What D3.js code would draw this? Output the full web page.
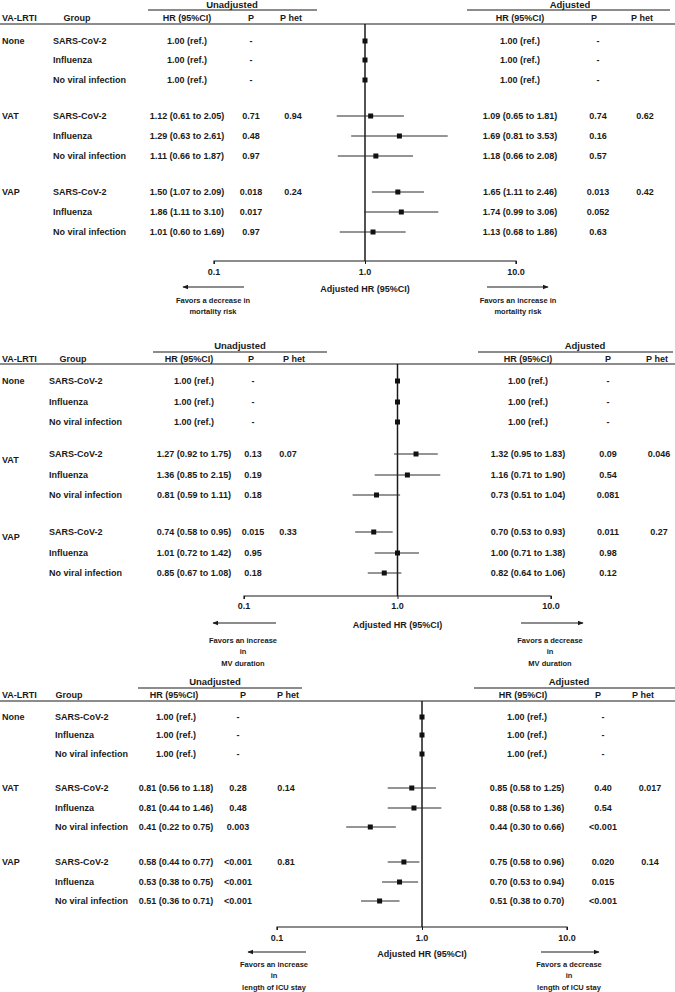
<!DOCTYPE html>
<html>
<head>
<meta charset="utf-8">
<script src="https://cdn.jsdelivr.net/npm/d3@7"></script>
<style>
  html, body { margin: 0; padding: 0; background: #fff; }
  svg text { font-family: "Liberation Sans Narrow", "Arial Narrow", "Liberation Sans", sans-serif; fill: #1a1a1a; }
</style>
</head>
<body>
<svg id="chart" width="675" height="992"></svg>
<script>
// ─── Data ───
const lrtiTypes = ["None", "VAT", "VAP"];
const groups = ["SARS-CoV-2", "Influenza", "No viral infection"];
const axisTicks = [0.1, 1, 10];
const tickLabels = ["0.1", "1.0", "10.0"];

// mortality
const mortUnHR = [1, 1, 1, 1.12, 1.29, 1.11, 1.50, 1.86, 1.01];
const mortUnLo = [null, null, null, 0.61, 0.63, 0.66, 1.07, 1.11, 0.60];
const mortUnHi = [null, null, null, 2.05, 2.61, 1.87, 2.09, 3.10, 1.69];
const mortUnP = ["-", "-", "-", "0.71", "0.48", "0.97", "0.018", "0.017", "0.97"];
const mortUnPhet = ["", "0.94", "0.24"];
const mortAdHR = [1, 1, 1, 1.09, 1.69, 1.18, 1.65, 1.74, 1.13];
const mortAdLo = [null, null, null, 0.65, 0.81, 0.66, 1.11, 0.99, 0.68];
const mortAdHi = [null, null, null, 1.81, 3.53, 2.08, 2.46, 3.06, 1.86];
const mortAdP = ["-", "-", "-", "0.74", "0.16", "0.57", "0.013", "0.052", "0.63"];
const mortAdPhet = ["", "0.62", "0.42"];

// MV duration
const mvUnHR = [1, 1, 1, 1.27, 1.36, 0.81, 0.74, 1.01, 0.85];
const mvUnLo = [null, null, null, 0.92, 0.85, 0.59, 0.58, 0.72, 0.67];
const mvUnHi = [null, null, null, 1.75, 2.15, 1.11, 0.95, 1.42, 1.08];
const mvUnP = ["-", "-", "-", "0.13", "0.19", "0.18", "0.015", "0.95", "0.18"];
const mvUnPhet = ["", "0.07", "0.33"];
const mvAdHR = [1, 1, 1, 1.32, 1.16, 0.73, 0.70, 1.00, 0.82];
const mvAdLo = [null, null, null, 0.95, 0.71, 0.51, 0.53, 0.71, 0.64];
const mvAdHi = [null, null, null, 1.83, 1.90, 1.04, 0.93, 1.38, 1.06];
const mvAdP = ["-", "-", "-", "0.09", "0.54", "0.081", "0.011", "0.98", "0.12"];
const mvAdPhet = ["", "0.046", "0.27"];

// ICU stay
const icuUnHR = [1, 1, 1, 0.81, 0.81, 0.41, 0.58, 0.53, 0.51];
const icuUnLo = [null, null, null, 0.56, 0.44, 0.22, 0.44, 0.38, 0.36];
const icuUnHi = [null, null, null, 1.18, 1.46, 0.75, 0.77, 0.75, 0.71];
const icuUnP = ["-", "-", "-", "0.28", "0.48", "0.003", "<0.001", "<0.001", "<0.001"];
const icuUnPhet = ["", "0.14", "0.81"];
const icuAdHR = [1, 1, 1, 0.85, 0.88, 0.44, 0.75, 0.70, 0.51];
const icuAdLo = [null, null, null, 0.58, 0.58, 0.30, 0.58, 0.53, 0.38];
const icuAdHi = [null, null, null, 1.25, 1.36, 0.66, 0.96, 0.94, 0.70];
const icuAdP = ["-", "-", "-", "0.40", "0.54", "<0.001", "0.020", "0.015", "<0.001"];
const icuAdPhet = ["", "0.017", "0.14"];

// ─── Layout per panel ───
const panels = [
  {
    un: { hr: mortUnHR, lo: mortUnLo, hi: mortUnHi, p: mortUnP, phet: mortUnPhet },
    ad: { hr: mortAdHR, lo: mortAdLo, hi: mortAdHi, p: mortAdP, phet: mortAdPhet },
    titleY: 5, titleLineY: 10, headerY: 18, headerLineY: 24,
    rowY: [41, 60, 80, 116, 136, 156, 192, 212, 232], lrtiDy: [0, 0, 0],
    unTitle: { x: 232, x0: 148, x1: 317 }, adTitle: { x: 570, x0: 467, x1: 670 },
    col: { lrti: 2, group: 53, groupHead: 77, unHR: 187, unP: 251, unPhet: 293, adHR: 520, adP: 598, adPhet: 645 },
    head: { unHR: 187, unP: 251, unPhet: 291, adHR: 520, adP: 594, adPhet: 642 },
    range: [214, 516], axisY: 261, tickY: 272, xlabY: 289,
    arrowY: 287, leftArrow: [244, 183], rightArrow: [487, 548],
    leftText: { x: 213, lines: ["Favors a decrease in", "mortality risk"] },
    rightText: { x: 518, lines: ["Favors an increase in", "mortality risk"] },
    favorsY: 300
  },
  {
    un: { hr: mvUnHR, lo: mvUnLo, hi: mvUnHi, p: mvUnP, phet: mvUnPhet },
    ad: { hr: mvAdHR, lo: mvAdLo, hi: mvAdHi, p: mvAdP, phet: mvAdPhet },
    titleY: 346, titleLineY: 352, headerY: 359, headerLineY: 364,
    rowY: [381, 402, 422, 454, 475, 495, 532, 553, 573], lrtiDy: [0, 6, 5],
    unTitle: { x: 240, x0: 153, x1: 327 }, adTitle: { x: 585, x0: 478, x1: 673 },
    col: { lrti: 2, group: 49, groupHead: 73, unHR: 194, unP: 253, unPhet: 288, adHR: 528, adP: 608, adPhet: 659 },
    head: { unHR: 189, unP: 251, unPhet: 294, adHR: 528, adP: 608, adPhet: 657 },
    range: [244, 551], axisY: 596, tickY: 606, xlabY: 625,
    arrowY: 623, leftArrow: [276, 213], rightArrow: [521, 583],
    leftText: { x: 243, lines: ["Favors  an increase", "in", "MV duration"] },
    rightText: { x: 550, lines: ["Favors a decrease", "in", "MV duration"] },
    favorsY: 640
  },
  {
    un: { hr: icuUnHR, lo: icuUnLo, hi: icuUnHi, p: icuUnP, phet: icuUnPhet },
    ad: { hr: icuAdHR, lo: icuAdLo, hi: icuAdHi, p: icuAdP, phet: icuAdPhet },
    titleY: 682, titleLineY: 688, headerY: 695, headerLineY: 701,
    rowY: [717, 735, 754, 788, 808, 827, 862, 882, 901], lrtiDy: [0, 0, 0],
    unTitle: { x: 215, x0: 138, x1: 302 }, adTitle: { x: 569, x0: 474, x1: 675 },
    col: { lrti: 2, group: 55, groupHead: 69, unHR: 176, unP: 238, unPhet: 286, adHR: 527, adP: 603, adPhet: 650 },
    head: { unHR: 174, unP: 243, unPhet: 288, adHR: 523, adP: 598, adPhet: 643 },
    range: [277, 567], axisY: 927, tickY: 938, xlabY: 954,
    arrowY: 952, leftArrow: [306, 248], rightArrow: [541, 599],
    leftText: { x: 274, lines: ["Favors an increase", "in", "length of ICU stay"] },
    rightText: { x: 569, lines: ["Favors a decrease", "in", "length of ICU stay"] },
    favorsY: 964
  }
];

const FS = 9;
const ink = "#1a1a1a";
const svg = d3.select("#chart");

svg.append("defs").append("marker")
  .attr("id", "arrow")
  .attr("viewBox", "0 0 10 10")
  .attr("refX", 9).attr("refY", 5)
  .attr("markerWidth", 5).attr("markerHeight", 5)
  .attr("orient", "auto-start-reverse")
  .append("path").attr("d", "M0,1 L10,5 L0,9 Z").attr("fill", ink);

function txt(g, x, y, s, opts = {}) {
  return g.append("text")
    .attr("x", x).attr("y", y)
    .attr("dy", "0.35em")
    .attr("text-anchor", opts.anchor || "middle")
    .style("font-size", (opts.size || FS) + "px")
    .style("font-weight", opts.weight || "bold")
    .text(s);
}

const fmt = d3.format(".2f");
function hrText(d, i) {
  if (d.lo[i] == null) return fmt(d.hr[i]) + " (ref.)";
  return `${fmt(d.hr[i])} (${fmt(d.lo[i])} to ${fmt(d.hi[i])})`;
}

function drawPanel(cfg) {
  const g = svg.append("g");
  const c = cfg.col, h = cfg.head;

  // ── Titles ──
  txt(g, cfg.unTitle.x, cfg.titleY, "Unadjusted", { size: FS + 0.5 });
  txt(g, cfg.adTitle.x, cfg.titleY, "Adjusted", { size: FS + 0.5 });
  [cfg.unTitle, cfg.adTitle].forEach((t) => {
    g.append("line")
      .attr("x1", t.x0).attr("x2", t.x1)
      .attr("y1", cfg.titleLineY).attr("y2", cfg.titleLineY)
      .attr("stroke", ink).attr("stroke-width", 1.2);
  });

  // ── Header row ──
  txt(g, c.lrti, cfg.headerY, "VA-LRTI", { anchor: "start" });
  txt(g, c.groupHead, cfg.headerY, "Group");
  txt(g, h.unHR, cfg.headerY, "HR (95%CI)");
  txt(g, h.unP, cfg.headerY, "P");
  txt(g, h.unPhet, cfg.headerY, "P het");
  txt(g, h.adHR, cfg.headerY, "HR (95%CI)");
  txt(g, h.adP, cfg.headerY, "P");
  txt(g, h.adPhet, cfg.headerY, "P het");
  g.append("line")
    .attr("x1", 0).attr("x2", 675)
    .attr("y1", cfg.headerLineY).attr("y2", cfg.headerLineY)
    .attr("stroke", ink).attr("stroke-width", 1.2);

  // ── Table body ──
  lrtiTypes.forEach((t, k) => {
    txt(g, c.lrti, cfg.rowY[k * 3] + cfg.lrtiDy[k], t, { anchor: "start" });
    if (cfg.un.phet[k]) txt(g, c.unPhet, cfg.rowY[k * 3], cfg.un.phet[k]);
    if (cfg.ad.phet[k]) txt(g, c.adPhet, cfg.rowY[k * 3], cfg.ad.phet[k]);
  });
  cfg.rowY.forEach((y, i) => {
    txt(g, c.group, y, groups[i % 3], { anchor: "start" });
    txt(g, c.unHR, y, hrText(cfg.un, i));
    txt(g, c.unP, y, cfg.un.p[i]);
    txt(g, c.adHR, y, hrText(cfg.ad, i));
    txt(g, c.adP, y, cfg.ad.p[i]);
  });

  // ── Forest plot (adjusted HR) ──
  const x = d3.scaleLog().domain([0.1, 10]).range(cfg.range);
  const x1 = x(1);

  g.append("line")
    .attr("x1", x1).attr("x2", x1)
    .attr("y1", cfg.headerLineY).attr("y2", cfg.axisY)
    .attr("stroke", ink).attr("stroke-width", 1.5);

  const axisG = g.append("g").attr("transform", `translate(0,${cfg.axisY})`);
  axisG.call(d3.axisBottom(x).tickValues(axisTicks).tickSize(3).tickFormat(""));
  axisG.select(".domain").attr("stroke", ink).attr("stroke-width", 1.2).attr("d", `M${cfg.range[0]},3V0H${cfg.range[1]}V3`);
  axisG.selectAll(".tick line").attr("stroke", ink);
  axisTicks.forEach((v, i) => txt(g, x(v), cfg.tickY, tickLabels[i]));

  txt(g, x1, cfg.xlabY, "Adjusted HR (95%CI)");

  cfg.rowY.forEach((y, i) => {
    if (cfg.ad.lo[i] != null) {
      g.append("line")
        .attr("x1", x(cfg.ad.lo[i])).attr("x2", x(cfg.ad.hi[i]))
        .attr("y1", y).attr("y2", y)
        .attr("stroke", "#2a2a2a").attr("stroke-width", 1);
    }
    const s = 5;
    g.append("rect")
      .attr("x", x(cfg.ad.hr[i]) - s / 2).attr("y", y - s / 2)
      .attr("width", s).attr("height", s)
      .attr("fill", "#111");
  });

  // ── Arrows & captions ──
  [cfg.leftArrow, cfg.rightArrow].forEach((a) => {
    g.append("line")
      .attr("x1", a[0]).attr("x2", a[1])
      .attr("y1", cfg.arrowY).attr("y2", cfg.arrowY)
      .attr("stroke", ink).attr("stroke-width", 1.2)
      .attr("marker-end", "url(#arrow)");
  });
  [cfg.leftText, cfg.rightText].forEach((t) => {
    t.lines.forEach((s, j) => txt(g, t.x, cfg.favorsY + j * 11.5, s, { size: 7.5 }));
  });
}

panels.forEach(drawPanel);
</script>
</body>
</html>
